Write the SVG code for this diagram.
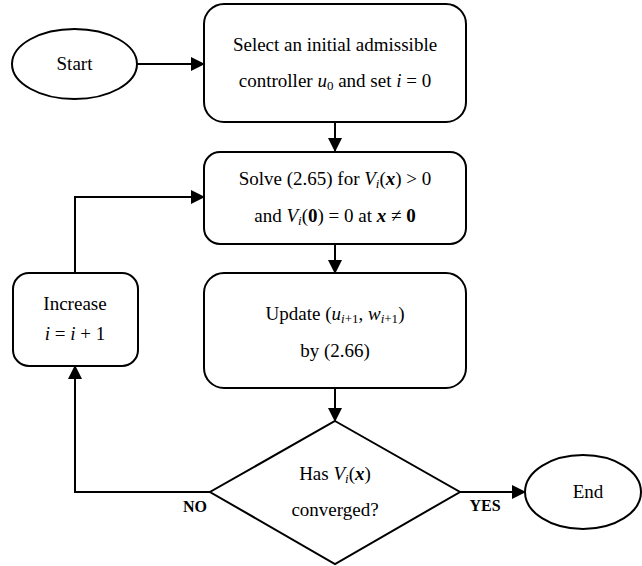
<svg xmlns="http://www.w3.org/2000/svg" width="642" height="566" viewBox="0 0 642 566" font-family="'Liberation Serif', 'DejaVu Serif', serif">
<defs>
<style>
.s{fill:#fff;stroke:#000;stroke-width:2}
.c{fill:none;stroke:#000;stroke-width:2}
text{font-family:'Liberation Serif','DejaVu Serif',serif;font-size:19px;fill:#000;text-anchor:middle}
.m{font-style:italic}
.b{font-weight:bold}
.bi{font-weight:bold;font-style:italic}
.sub{font-size:13px}
.lbl{font-weight:bold;font-size:16px}
</style>
<marker id="ah" markerWidth="14" markerHeight="14" refX="13" refY="7" orient="auto" markerUnits="userSpaceOnUse">
<path d="M0,0 L14,7 L0,14 Z" fill="#000"/>
</marker>
</defs>
<rect width="642" height="566" fill="#fff"/>
<g id="connectors">
<path class="c" d="M137,64 H204" marker-end="url(#ah)"/>
<path class="c" d="M335,122 V151" marker-end="url(#ah)"/>
<path class="c" d="M335,244 V273" marker-end="url(#ah)"/>
<path class="c" d="M335,388 V421" marker-end="url(#ah)"/>
<path class="c" d="M460,492 H525" marker-end="url(#ah)"/>
<path class="c" d="M210,492 H75 V366" marker-end="url(#ah)"/>
<path class="c" d="M75,273 V197 H204" marker-end="url(#ah)"/>
<text class="lbl" x="485" y="511">YES</text>
<text class="lbl" x="195" y="512">NO</text>
</g>
<g id="start">
<ellipse class="s" cx="74.5" cy="64" rx="62.5" ry="35"/>
<text x="74.5" y="70">Start</text>
</g>
<g id="init">
<rect class="s" x="204" y="4" width="262" height="118" rx="20"/>
<text x="335" y="51">Select an initial admissible</text>
<text x="335" y="87">controller <tspan class="m">u</tspan><tspan class="sub" dy="3">0</tspan><tspan dy="-3">  and set </tspan><tspan class="m">i</tspan> = 0</text>
</g>
<g id="solve">
<rect class="s" x="204" y="152" width="262" height="92" rx="16"/>
<text x="335" y="185">Solve (2.65) for <tspan class="m">V</tspan><tspan class="sub m" dy="3">i</tspan><tspan dy="-3">(</tspan><tspan class="bi">x</tspan>) &gt; 0</text>
<text x="335" y="222">and <tspan class="m">V</tspan><tspan class="sub m" dy="3">i</tspan><tspan dy="-3">(</tspan><tspan class="b">0</tspan>) = 0 at <tspan class="bi">x</tspan> ≠ <tspan class="b">0</tspan></text>
</g>
<g id="update">
<rect class="s" x="204" y="273" width="262" height="115" rx="20"/>
<text x="335" y="320">Update (<tspan class="m">u</tspan><tspan class="sub" dy="3"><tspan class="m">i</tspan>+1</tspan><tspan dy="-3">, </tspan><tspan class="m">w</tspan><tspan class="sub" dy="3"><tspan class="m">i</tspan>+1</tspan><tspan dy="-3">)</tspan></text>
<text x="335" y="357">by (2.66)</text>
</g>
<g id="increase">
<rect class="s" x="13" y="273" width="125" height="93" rx="16"/>
<text x="75" y="310">Increase</text>
<text x="75" y="340"><tspan class="m">i</tspan> = <tspan class="m">i</tspan> + 1</text>
</g>
<g id="check">
<polygon class="s" points="335,421 460,492 335,564 210,492"/>
<text x="335" y="480">Has <tspan class="m">V</tspan><tspan class="sub m" dy="3">i</tspan><tspan dy="-3">(</tspan><tspan class="bi">x</tspan>)</text>
<text x="335" y="516">converged?</text>
</g>
<g id="end">
<ellipse class="s" cx="583" cy="492" rx="58" ry="37"/>
<text x="588" y="498">End</text>
</g>
</svg>
